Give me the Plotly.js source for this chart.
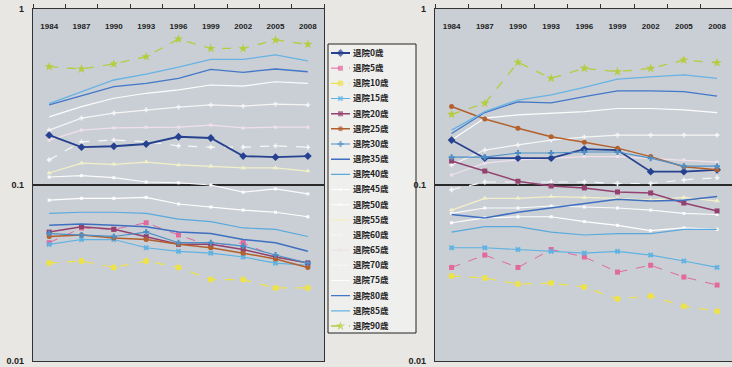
<!DOCTYPE html>
<html><head><meta charset="utf-8">
<script src="https://cdn.plot.ly/plotly-3.0.1.min.js"></script>
<style>html,body{margin:0;padding:0;background:#e9e7e3;} #c{width:732px;height:367px;}</style>
</head><body><div id="c"></div>
<script>
const years = ['1984','1987','1990','1993','1996','1999','2002','2005','2008'];
const seriesNames = ['退院0歳','退院5歳','退院10歳','退院15歳','退院20歳','退院25歳','退院30歳','退院35歳','退院40歳','退院45歳','退院50歳','退院55歳','退院60歳','退院65歳','退院70歳','退院75歳','退院80歳','退院85歳','退院90歳'];
const yTickVals = [0.01, 0.1, 1];
const yTickText = ['0.01', '0.1', '1'];

// left panel
const L0  = [0.192,0.164,0.166,0.171,0.188,0.185,0.146,0.144,0.146];
const L5  = [0.047,0.057,0.056,0.061,0.052,0.045,0.047,0.039,0.036];
const L10 = [0.036,0.037,0.034,0.037,0.034,0.029,0.029,0.026,0.026];
const L15 = [0.046,0.049,0.049,0.044,0.042,0.041,0.039,0.036,0.035];
const L20 = [0.054,0.058,0.056,0.051,0.046,0.046,0.043,0.039,0.036];
const L25 = [0.051,0.052,0.050,0.049,0.046,0.044,0.041,0.038,0.034];
const L30 = [0.053,0.052,0.051,0.054,0.047,0.047,0.045,0.040,0.036];
const L35 = [0.059,0.060,0.059,0.058,0.054,0.053,0.049,0.047,0.042];
const L40 = [0.069,0.070,0.070,0.069,0.064,0.062,0.057,0.056,0.051];
const L45 = [0.082,0.084,0.084,0.085,0.078,0.075,0.072,0.070,0.066];
const L50 = [0.111,0.113,0.110,0.104,0.103,0.100,0.091,0.095,0.089];
const L55 = [0.117,0.133,0.131,0.135,0.130,0.128,0.125,0.125,0.120];
const L60 = [0.139,0.176,0.180,0.176,0.167,0.164,0.164,0.167,0.164];
const L65 = [0.180,0.205,0.211,0.213,0.213,0.219,0.211,0.213,0.213];
const L70 = [0.205,0.240,0.256,0.267,0.277,0.285,0.281,0.288,0.285];
const L75 = [0.244,0.279,0.311,0.332,0.347,0.370,0.365,0.386,0.378];
const L80 = [0.285,0.322,0.362,0.378,0.404,0.454,0.437,0.456,0.440];
const L85 = [0.290,0.339,0.395,0.427,0.467,0.518,0.518,0.548,0.508];
const L90 = [0.470,0.456,0.487,0.536,0.675,0.597,0.597,0.667,0.630];

// right panel
const R0  = [0.180,0.142,0.142,0.142,0.160,0.158,0.119,0.119,0.122];
const R5  = [0.034,0.040,0.034,0.043,0.039,0.032,0.035,0.030,0.027];
const R10 = [0.0304,0.0296,0.0274,0.0277,0.0263,0.0225,0.0234,0.0205,0.0192];
const R15 = [0.044,0.044,0.043,0.042,0.041,0.042,0.040,0.037,0.034];
const R20 = [0.137,0.120,0.105,0.0987,0.0962,0.0913,0.0901,0.079,0.0712];
const R25 = [0.279,0.237,0.210,0.188,0.175,0.162,0.145,0.127,0.122];
const R30 = [0.144,0.144,0.152,0.152,0.154,0.154,0.142,0.128,0.128];
const R35 = [0.068,0.065,0.070,0.074,0.078,0.083,0.081,0.082,0.086];
const R40 = [0.054,0.058,0.058,0.054,0.052,0.053,0.053,0.056,0.056];
const R45 = [0.061,0.065,0.066,0.066,0.062,0.059,0.055,0.057,0.056];
const R50 = [0.069,0.074,0.074,0.076,0.075,0.074,0.072,0.069,0.068];
const R55 = [0.072,0.084,0.084,0.086,0.085,0.084,0.082,0.085,0.081];
const R60 = [0.094,0.104,0.104,0.104,0.104,0.102,0.102,0.107,0.110];
const R65 = [0.114,0.133,0.139,0.142,0.145,0.145,0.142,0.139,0.135];
const R70 = [0.130,0.158,0.169,0.180,0.187,0.192,0.192,0.192,0.192];
const R75 = [0.180,0.240,0.250,0.256,0.261,0.272,0.272,0.267,0.258];
const R80 = [0.196,0.258,0.297,0.293,0.318,0.343,0.343,0.339,0.320];
const R85 = [0.205,0.261,0.304,0.325,0.359,0.400,0.412,0.422,0.404];
const R90 = [0.252,0.291,0.498,0.404,0.460,0.440,0.460,0.513,0.495];

const leftValues  = [L0,L5,L10,L15,L20,L25,L30,L35,L40,L45,L50,L55,L60,L65,L70,L75,L80,L85,L90];
const rightValues = [R0,R5,R10,R15,R20,R25,R30,R35,R40,R45,R50,R55,R60,R65,R70,R75,R80,R85,R90];

const styles = [
  {c:'#26418f', s:'diamond', z:6, w:1.8, d:'solid'},
  {c:'#e2689e', s:'square', z:5, w:1, d:'dash'},
  {c:'#eee24a', s:'circle', z:6, w:1.2, d:'dash'},
  {c:'#5fb2e2', s:'x', z:5, w:1.2, d:'solid'},
  {c:'#94416f', s:'square', z:5, w:1.5, d:'solid'},
  {c:'#b3602c', s:'circle', z:5, w:1.5, d:'solid'},
  {c:'#4e8fc6', s:'cross', z:5, w:1.2, d:'solid'},
  {c:'#3f6fc0', s:null, z:0, w:1.5, d:'solid'},
  {c:'#5aa9dd', s:null, z:0, w:1.2, d:'solid'},
  {c:'#ffffff', s:'square', z:3, w:1.2, d:'solid'},
  {c:'#fbfbfb', s:'square', z:3, w:1.2, d:'solid'},
  {c:'#f3f0c8', s:'triangle-up', z:5, w:1.2, d:'solid'},
  {c:'#f7f7f7', s:'cross', z:4, w:1.2, d:'dash'},
  {c:'#f1e0ea', s:'square', z:3, w:1.2, d:'solid'},
  {c:'#f5f5f5', s:'cross', z:4, w:1.2, d:'solid'},
  {c:'#fdfdfd', s:null, z:0, w:1.2, d:'solid'},
  {c:'#4377c8', s:null, z:0, w:1.3, d:'solid'},
  {c:'#68b3e3', s:null, z:0, w:1.3, d:'solid'},
  {c:'#b6cc3f', s:'star', z:7, w:1.3, d:'dash'}
];

const order = [9,10,11,12,13,14,15,0,1,2,3,4,5,6,7,8,16,17,18];
const traces = [];
function mk(i, x, y, xa, ya, sizes) {
  const st = styles[i];
  const t = {type:'scatter', x:x, y:y, xaxis:xa, yaxis:ya, name:seriesNames[i], showlegend:false,
    mode: st.s ? 'lines+markers' : 'lines',
    line:{color:st.c, width:st.w, dash:st.d}, hoverinfo:'skip'};
  if (st.s) t.marker = {symbol:st.s, size: sizes || st.z, color:st.c, line:{width:0}};
  return t;
}
order.forEach(i => {
  traces.push(mk(i, years, leftValues[i], 'x', 'y'));
  traces.push(mk(i, years, rightValues[i], 'x2', 'y2'));
});
// legend samples
seriesNames.forEach((n, i) => {
  const st = styles[i];
  traces.push(mk(i, [0,1,2], [n,n,n], 'x3', 'y3', [0, st.z, 0]));
});
// empty traces so the year-label axes get their own (empty) subplots
traces.push({type:'scatter', x:[], y:[], xaxis:'x4', yaxis:'y6', showlegend:false, hoverinfo:'skip'});
traces.push({type:'scatter', x:[], y:[], xaxis:'x5', yaxis:'y7', showlegend:false, hoverinfo:'skip'});

const W = 732, H = 367;
const yDom = [(H-361)/H, (H-9)/H];
const tickFontX = {family:'Liberation Sans, Arial', size:8, weight:'bold', color:'#222'};
const tickFontY = {family:'Liberation Sans, Arial', size:9, weight:'bold', color:'#222'};
function xax(dom, rng, anchor) {
  return {domain:dom, type:'category', categoryorder:'array', categoryarray:years, range:rng, side:'top', anchor:anchor,
    ticks:'outside', ticklen:4, tickcolor:'#333', tickson:'boundaries', showticklabels:false,
    showline:true, linecolor:'#333', linewidth:1.2, mirror:true,
    showgrid:false, zeroline:false, fixedrange:true};
}
// year labels row (drawn just under the top frame, inside the plot)
function xlab(dom, rng, anchor) {
  return {domain:dom, type:'linear', range:rng, anchor:anchor, side:'top',
    tickmode:'array', tickvals:years.map((_, i) => i), ticktext:years,
    ticks:'', showline:false, showgrid:false, zeroline:false,
    ticklabelstandoff:1, tickfont:tickFontX, fixedrange:true};
}
function ylabDummy(anchor) {
  return {domain:[yDom[0], (H-33)/H], range:[0,1], anchor:anchor, visible:false, fixedrange:true};
}
function yax(anchor) {
  return {domain:yDom, type:'log', range:[-2,0], anchor:anchor, tickvals:yTickVals, ticktext:yTickText,
    showgrid:true, gridcolor:'#2a2a2a', gridwidth:1.3, showline:true, linecolor:'#333', linewidth:1.2, mirror:true,
    ticks:'', ticklabelstandoff:6, tickfont:tickFontY, zeroline:false, fixedrange:true};
}
const layout = {
  width:W, height:H, margin:{l:0,r:0,t:0,b:0},
  paper_bgcolor:'#e9e7e3', plot_bgcolor:'rgba(0,0,0,0)',
  showlegend:false,
  xaxis: xax([33/W, 324/W], [-0.5, 8.5], 'y'),
  yaxis: yax('x'),
  xaxis2: xax([435/W, 1], [-0.5, 8.45], 'y2'),
  yaxis2: yax('x2'),
  xaxis4: xlab([33/W, 324/W], [-0.5, 8.5], 'y6'),
  yaxis6: ylabDummy('x4'),
  xaxis5: xlab([435/W, 1], [-0.5, 8.45], 'y7'),
  yaxis7: ylabDummy('x5'),
  xaxis3: {domain:[331/W, 350/W], range:[0,2], visible:false, anchor:'y3', fixedrange:true},
  yaxis3: {domain:[(H-333.6)/H, (H-45.4)/H], anchor:'x3', side:'right', type:'category',
    categoryorder:'array', categoryarray:seriesNames, range:[18.5,-0.5], showgrid:false, showline:false,
    ticks:'', ticklabelstandoff:2, zeroline:false, fixedrange:true,
    tickfont:{family:'Noto Sans CJK JP', size:8.5, weight:'bold', color:'#222'}},
  shapes: [
    {type:'rect', xref:'x domain', yref:'y domain', x0:0, x1:1, y0:0, y1:1, fillcolor:'#c9cfd5', line:{width:0}, layer:'below'},
    {type:'rect', xref:'x2 domain', yref:'y2 domain', x0:0, x1:1, y0:0, y1:1, fillcolor:'#c9cfd5', line:{width:0}, layer:'below'},
    {type:'rect', xref:'paper', yref:'paper', x0:328/W, x1:416/W, y0:(H-333)/H, y1:(H-44)/H, fillcolor:'#efefed', line:{color:'#222', width:1}, layer:'below'}
  ]
};
Plotly.newPlot('c', traces, layout, {staticPlot:true, displayModeBar:false});
</script>
</body></html>
